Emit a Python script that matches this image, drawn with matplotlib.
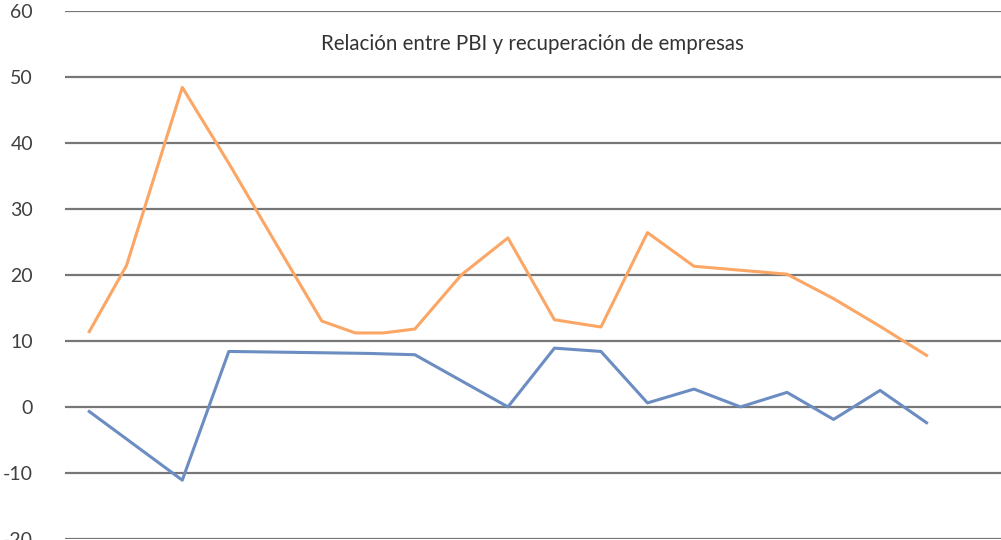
import matplotlib.pyplot as plt

# series positions (category index) and values
orange_x = [0, 0.8, 2, 3, 4, 5, 5.72, 6.32, 7, 8, 9, 10, 11, 12, 13, 14, 15, 16, 17, 18]
orange_y = [11.4, 21.4, 48.4, 36.9, 24.9, 13.0, 11.2, 11.2, 11.8, 20.0, 25.6, 13.2,
            12.1, 26.4, 21.3, 20.7, 20.1, 16.4, 12.2, 7.8]

blue_x = list(range(19))
blue_y = [-0.7, -5.9, -11.1, 8.4, 8.3, 8.2, 8.1, 7.9, 3.95, 0.0, 8.9, 8.4,
          0.6, 2.7, 0.0, 2.2, -1.9, 2.5, -2.4]

yticks = [-20, -10, 0, 10, 20, 30, 40, 50, 60]
title = "Relación entre PBI y recuperación de empresas"

plt.rcParams['font.family'] = ['Lato', 'DejaVu Sans']

fig = plt.figure(figsize=(10.01, 5.4), dpi=100)
ax = fig.add_axes([0.065, 0.002, 0.935, 0.978])

for y in yticks:
    ax.axhline(y, color='#777777', linewidth=1.6, zorder=1)

ax.plot(orange_x, orange_y, color='#FBA664', linewidth=2.2, zorder=3)
ax.plot(blue_x, blue_y, color='#6B8DC2', linewidth=2.2, zorder=3)

ax.set_xlim(-0.52, 19.6)
ax.set_ylim(-20, 60)
ax.set_yticks(yticks)
ax.set_yticklabels([str(t) for t in yticks])
ax.set_xticks([])
ax.tick_params(axis='y', length=0, pad=23, labelsize=14, labelcolor='#404040')
for s in ax.spines.values():
    s.set_visible(False)

fig.text(0.532, 1 - 44 / 540, title, ha='center', va='center',
         fontsize=14.8, color='#333333')

fig.savefig('out.png', dpi=100)
